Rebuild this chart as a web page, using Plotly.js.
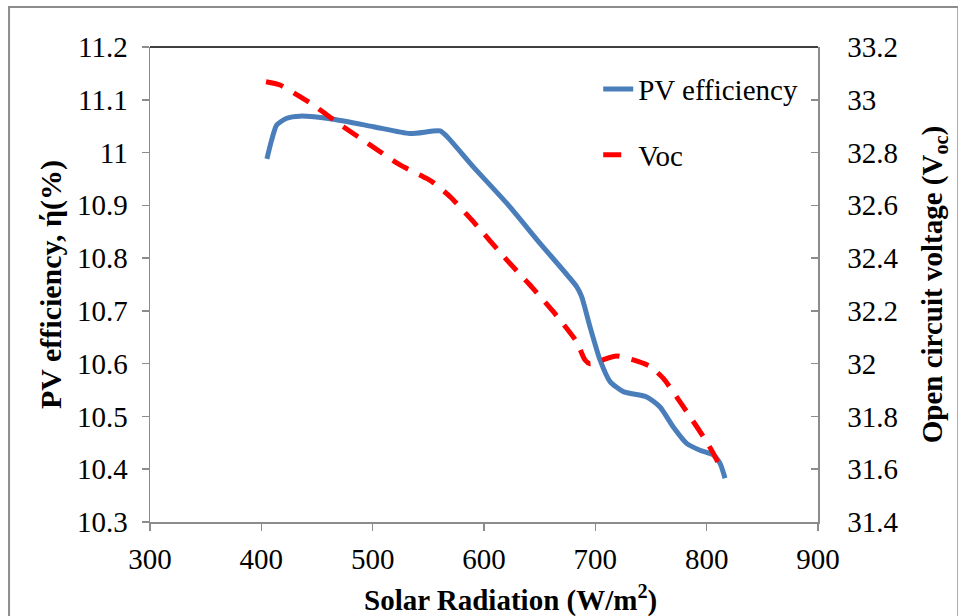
<!DOCTYPE html>
<html>
<head>
<meta charset="utf-8">
<script src="https://cdn.plot.ly/plotly-3.0.1.min.js"></script>
<style>
html,body{margin:0;padding:0;background:#fff;}
#chart{width:958px;height:616px;}
</style>
</head>
<body>
<div id="chart"></div>
<script>
// PV efficiency (left axis)
const pvRadiation = [405, 409.3, 413.8, 422.8, 434.7, 464.7, 500.6, 533.5, 560.5, 566.5, 590.4, 620.4, 650.3, 683.2, 687.7, 695.2, 704.2, 713.2, 725.1, 746.1, 758.1, 770, 782, 794, 806, 812, 816.5];
const pvEfficiency = [10.988, 11.024, 11.052, 11.065, 11.069, 11.063, 11.049, 11.036, 11.041, 11.031, 10.973, 10.904, 10.828, 10.746, 10.727, 10.67, 10.607, 10.566, 10.547, 10.537, 10.518, 10.48, 10.449, 10.436, 10.427, 10.411, 10.383];
// Open circuit voltage (right axis)
const vocRadiation = [404.2, 416.8, 434.7, 446.7, 461.7, 473.6, 497.6, 524.6, 548.5, 554.5, 569.5, 590.4, 620.4, 641.3, 662.3, 683.2, 690.7, 695.2, 701.2, 719.2, 734.1, 749.1, 761.1, 779.0, 797, 806, 813.5];
const vocValues = [33.068, 33.056, 33.012, 32.98, 32.934, 32.898, 32.829, 32.753, 32.702, 32.686, 32.633, 32.538, 32.393, 32.298, 32.197, 32.083, 32.014, 32.0, 32.007, 32.029, 32.014, 31.99, 31.944, 31.837, 31.723, 31.66, 31.597];
const seriesNames = ["PV efficiency", "Voc"];
const xTitle = 'Solar Radiation (W/m<sup>2</sup>)';
const yTitle = 'PV efficiency, ή(%)';
const y2Title = 'Open circuit voltage (V<sub>oc</sub>)';

const font = "Liberation Serif, Times New Roman, serif";

const traces = [
  {
    x: pvRadiation, y: pvEfficiency, name: seriesNames[0], type: 'scatter', mode: 'lines',
    line: {color: '#4a7ebb', width: 5, shape: 'spline', smoothing: 0.6},
    yaxis: 'y', legendgroup: 'a'
  },
  {
    x: vocRadiation, y: vocValues, name: seriesNames[1], type: 'scatter', mode: 'lines',
    line: {color: '#ff0000', width: 5, dash: '18px,12px', shape: 'spline', smoothing: 0.6},
    yaxis: 'y2', legendgroup: 'b'
  }
];

const axisColor = '#8c8c8c';
const layout = {
  width: 958, height: 616,
  margin: {l: 150, r: 140, t: 47, b: 94},
  paper_bgcolor: '#ffffff', plot_bgcolor: '#ffffff',
  font: {family: font, size: 29, color: '#000'},
  showlegend: true,
  legend: {x: 0.671, y: 0.965, xanchor: 'left', yanchor: 'top', bgcolor: 'rgba(0,0,0,0)',
           font: {family: font, size: 29, color: '#000'}, tracegroupgap: 25},
  xaxis: {
    range: [300, 900], dtick: 100, tick0: 300, showgrid: false, zeroline: false,
    showline: true, linecolor: axisColor, linewidth: 1.5,
    ticks: 'outside', ticklen: 7, tickcolor: axisColor, tickwidth: 1.5,
    tickfont: {family: font, size: 29, color: '#000'}, ticklabelstandoff: 4
  },
  yaxis: {
    range: [10.3, 11.2], dtick: 0.1, tick0: 10.3, showgrid: false, zeroline: false,
    showline: true, linecolor: axisColor, linewidth: 1.5,
    ticks: 'outside', ticklen: 7, tickcolor: axisColor, tickwidth: 1.5,
    tickfont: {family: font, size: 29, color: '#000'}, ticklabelstandoff: 8,
    title: {text: yTitle, font: {family: font, size: 30, weight: 'bold', color: '#000'}, standoff: 6}
  },
  yaxis2: {
    range: [31.4, 33.2], dtick: 0.2, tick0: 31.4, overlaying: 'y', side: 'right',
    showgrid: false, zeroline: false,
    showline: true, linecolor: axisColor, linewidth: 1.5,
    ticks: 'inside', ticklen: 7, tickcolor: axisColor, tickwidth: 1.5,
    tickfont: {family: font, size: 29, color: '#000'}, ticklabelstandoff: 22,
    title: {text: y2Title, font: {family: font, size: 29, weight: 'bold', color: '#000'}, standoff: 24}
  },
  annotations: [
    {text: xTitle, xref: 'paper', yref: 'paper', x: 0.539, y: -0.16, xanchor: 'center', yanchor: 'middle',
     showarrow: false, font: {family: font, size: 29, weight: 'bold', color: '#000'}}
  ],
  shapes: [
    {type: 'line', xref: 'paper', yref: 'paper', x0: 0, x1: 1, y0: 1, y1: 1,
     line: {color: '#000000', width: 1.5}},
    {type: 'rect', xref: 'paper', yref: 'paper', x0: -0.211, x1: 1.21, y0: -0.25, y1: 1.084,
     line: {color: '#8c8c8c', width: 2}, layer: 'below'}
  ]
};

Plotly.newPlot('chart', traces, layout, {displayModeBar: false, staticPlot: true});
</script>
</body>
</html>
